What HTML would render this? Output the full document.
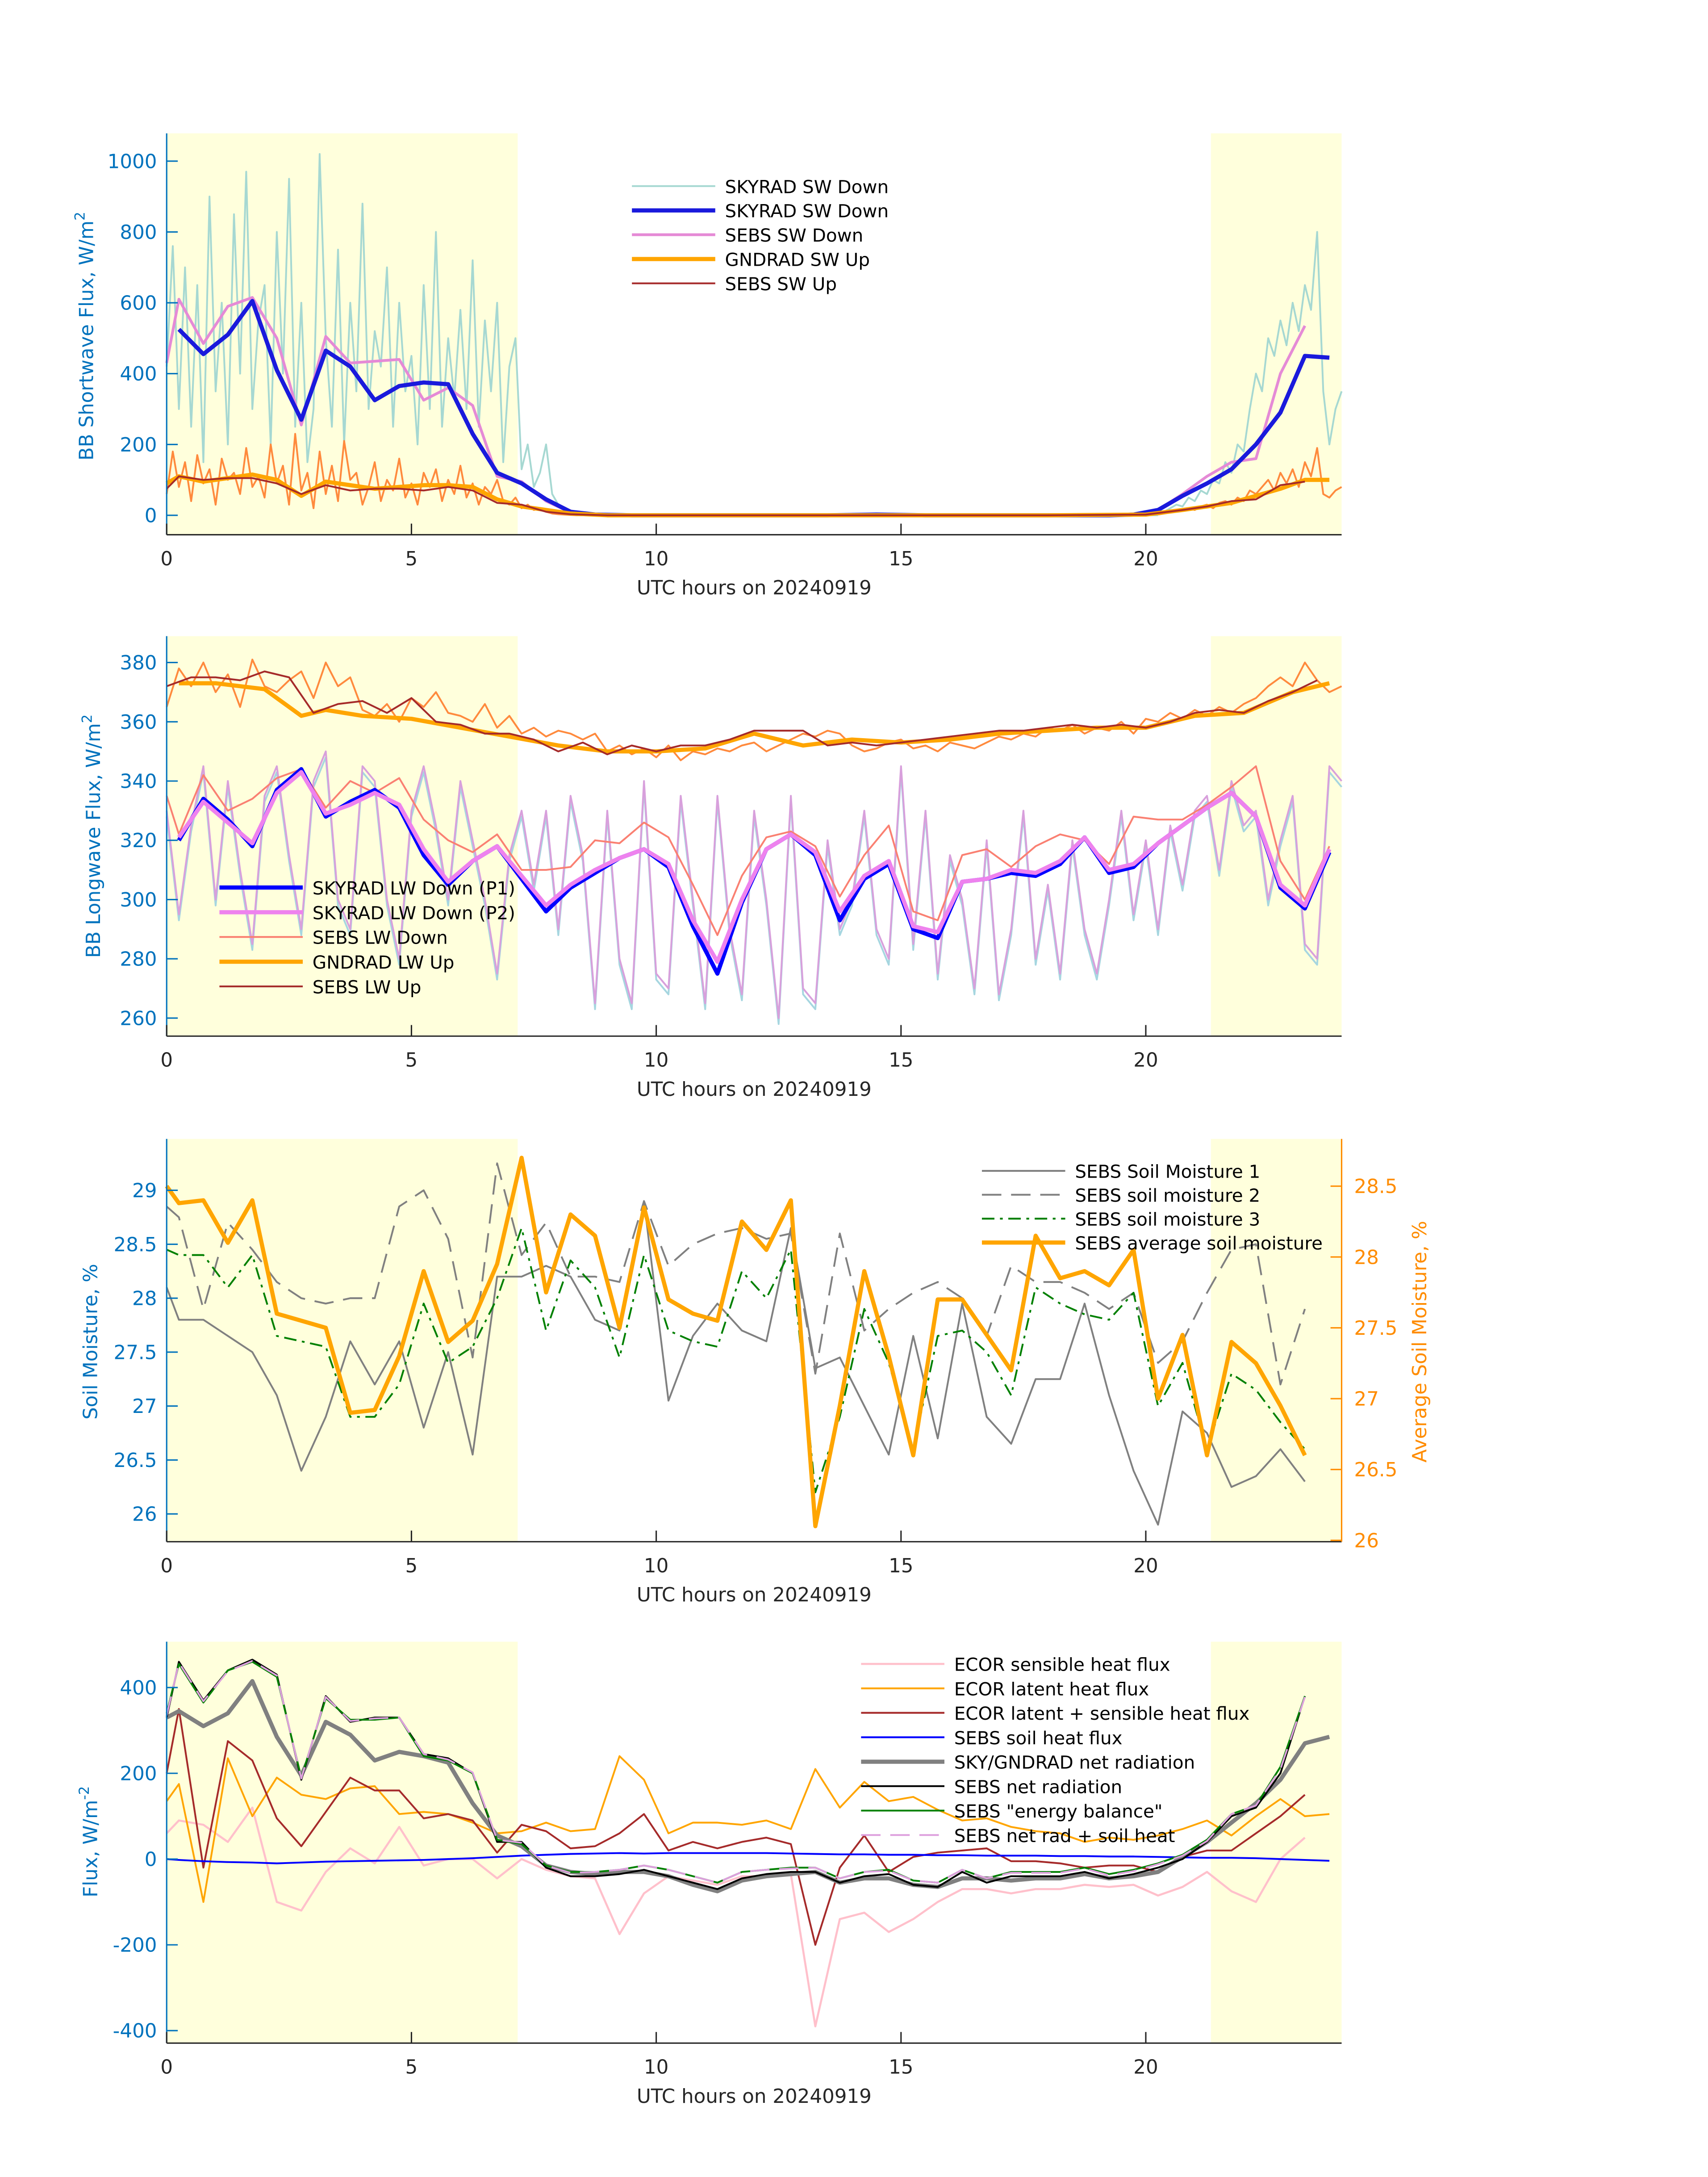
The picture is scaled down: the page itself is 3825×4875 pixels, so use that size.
<!DOCTYPE html>
<html><head><meta charset="utf-8"><style>
html,body{margin:0;padding:0;background:#fff;}
svg{display:block;font-family:"DejaVu Sans","Liberation Sans",sans-serif;}
</style></head><body>
<svg id="fig" width="3825" height="4875" viewBox="0 0 1229.8 1567.4" xmlns="http://www.w3.org/2000/svg"></svg>
<script>
// ---------- DATA ----------
// Panel 1 (shortwave)
const p1SkyT=[0.25,0.75,1.25,1.75,2.25,2.75,3.25,3.75,4.25,4.75,5.25,5.75,6.25,6.75,7.25,7.75,8.25,8.75,9.5,10.5,11.5,12.5,13.5,14.5,15.5,16.5,17.5,18.5,19.25,19.75,20.25,20.75,21.25,21.75,22.25,22.75,23.25,23.75];
const p1SkyV=[525,455,510,605,410,270,465,420,325,365,375,370,230,120,90,45,10,2,0,0,0,0,0,2,0,0,0,0,0,2,15,55,90,130,200,290,450,445];
const p1SebsT=[0,0.25,0.75,1.25,1.75,2.25,2.75,3.25,3.75,4.75,5.25,5.75,6.25,6.75,7.25,7.75,8.25,8.75,9.5,12,15,18,19.75,20.25,20.75,21.25,21.75,22.25,22.75,23.25];
const p1SebsV=[430,610,485,590,615,500,255,505,430,440,325,360,310,110,95,40,8,2,0,0,0,0,2,15,60,110,150,160,400,535];
const p1GndT=[0,0.25,0.75,1.25,1.75,2.25,2.75,3.25,3.75,4.25,4.75,5.25,5.75,6.25,6.75,7.25,7.75,8.25,9,12,15,18,20,20.75,21.25,21.75,22.25,22.75,23.25,23.75];
const p1GndV=[90,110,95,105,115,100,55,95,85,75,80,85,85,80,45,25,15,5,0,0,0,0,2,15,25,35,55,75,100,100];
const p1SebsUpT=[0,0.25,0.75,1.25,1.75,2.25,2.75,3.25,3.75,4.25,4.75,5.25,5.75,6.25,6.75,7.25,7.75,8.25,9,12,15,18,20,20.75,21.25,21.75,22.25,22.75,23.25];
const p1SebsUpV=[75,110,100,105,105,90,60,85,70,75,75,70,80,70,35,30,10,3,0,0,0,0,2,15,25,40,45,85,95];
const p1RawAm=[420,760,300,700,250,650,150,900,350,600,200,850,400,970,300,550,650,200,800,400,950,250,600,150,300,1020,500,250,750,200,600,350,880,300,520,420,700,250,600,350,450,200,650,300,800,250,500,330,580,300,720,250,550,350,600,150,420,500,130,200,80,120,200,60,30,15,5,2,0];
const p1RawPm=[5,10,20,30,25,50,40,70,60,100,90,150,120,200,180,300,400,350,500,450,550,480,600,520,650,580,800,350,200,300,350];
const p1UpAm=[60,180,80,150,40,170,90,130,30,160,100,120,60,190,80,110,50,200,90,140,30,230,70,120,20,180,60,140,40,210,100,120,30,80,150,40,100,70,160,50,90,30,120,80,130,40,100,60,140,50,90,30,80,60,100,40,30,50,20,30,15,20,10,5,3,2,1,0,0];
const p1UpPm=[2,5,8,10,12,20,15,25,30,20,35,40,30,50,40,70,60,80,100,70,120,90,130,80,150,110,190,60,50,70,80];
// Panel 2 (longwave)
const p2T=[0.25,0.75,1.25,1.75,2.25,2.75,3.25,3.75,4.25,4.75,5.25,5.75,6.25,6.75,7.25,7.75,8.25,8.75,9.25,9.75,10.25,10.75,11.25,11.75,12.25,12.75,13.25,13.75,14.25,14.75,15.25,15.75,16.25,16.75,17.25,17.75,18.25,18.75,19.25,19.75,20.25,20.75,21.25,21.75,22.25,22.75,23.25,23.75];
const p2P1=[320,334,327,318,337,344,328,333,337,331,315,305,313,318,307,296,304,309,314,317,311,291,275,299,317,322,315,293,307,312,290,287,306,307,309,308,312,321,309,311,319,325,331,336,328,304,297,316];
const p2P2=[321,333,326,319,336,343,329,332,336,332,317,306,313,318,308,298,305,310,314,317,312,293,279,300,317,322,316,296,308,313,291,289,306,307,310,309,313,321,310,312,319,325,331,336,328,305,298,317];
const p2SebsT=[0,0.25,0.75,1.25,1.75,2.25,2.75,3.25,3.75,4.25,4.75,5.25,5.75,6.25,6.75,7.25,7.75,8.25,8.75,9.25,9.75,10.25,10.75,11.25,11.75,12.25,12.75,13.25,13.75,14.25,14.75,15.25,15.75,16.25,16.75,17.25,17.75,18.25,18.75,19.25,19.75,20.25,20.75,21.25,21.75,22.25,22.75,23.25,23.75];
const p2SebsDn=[335,322,342,330,334,341,344,331,340,336,341,327,320,316,322,310,310,311,320,319,326,321,305,288,308,321,323,318,301,315,325,296,293,315,317,311,318,322,320,312,328,327,327,332,338,345,313,300,318];
const p2GndT=[0.25,1,2,2.75,3.25,4,5,6,7,8,9,10,11,12,13,14,15,16,17,18,19,20,21,22,23,23.75];
const p2GndUp=[373,373,371,362,364,362,361,358,355,352,350,350,351,356,352,354,353,354,356,357,358,358,362,363,370,373];
const p2UpT=[0,0.5,1,1.5,2,2.5,3,3.5,4,4.5,5,5.5,6,6.5,7,7.5,8,8.5,9,9.5,10,10.5,11,11.5,12,12.5,13,13.5,14,14.5,15,15.5,16,16.5,17,17.5,18,18.5,19,19.5,20,20.5,21,21.5,22,22.5,23,23.5];
const p2SebsUp=[372,375,375,374,377,375,363,366,367,363,368,360,359,356,356,354,350,353,349,352,350,352,352,354,357,357,357,352,353,352,353,354,355,356,357,357,358,359,358,359,358,360,363,364,363,367,370,374];
const p2RawDn=[330,295,325,345,300,340,310,285,335,345,315,290,340,350,300,290,345,340,300,280,330,345,325,300,340,320,300,275,315,330,305,330,290,335,315,265,330,280,265,340,275,270,335,300,265,335,290,268,330,300,260,335,270,265,320,290,300,330,290,280,345,285,330,275,315,300,270,320,268,290,330,280,305,275,320,290,275,300,330,295,320,290,325,305,330,335,310,340,325,330,300,320,335,285,280,345,340];
const p2RawUp=[365,378,372,380,370,376,365,381,372,370,374,377,368,380,372,375,364,362,366,360,368,365,370,363,362,360,366,358,362,356,358,355,357,356,354,356,350,352,349,351,348,352,347,350,349,351,350,352,353,350,352,354,356,355,357,356,352,350,351,353,354,351,352,350,353,352,351,353,355,354,356,355,358,357,359,356,358,357,360,356,361,360,363,361,364,362,365,363,366,368,372,375,372,380,374,370,372];
// Panel 3 (soil moisture)
const p3T=[0,0.25,0.75,1.25,1.75,2.25,2.75,3.25,3.75,4.25,4.75,5.25,5.75,6.25,6.75,7.25,7.75,8.25,8.75,9.25,9.75,10.25,10.75,11.25,11.75,12.25,12.75,13.25,13.75,14.25,14.75,15.25,15.75,16.25,16.75,17.25,17.75,18.25,18.75,19.25,19.75,20.25,20.75,21.25,21.75,22.25,22.75,23.25];
const p3Avg=[28.5,28.38,28.4,28.1,28.4,27.6,27.55,27.5,26.9,26.92,27.3,27.9,27.4,27.55,27.95,28.7,27.75,28.3,28.15,27.5,28.35,27.7,27.6,27.55,28.25,28.05,28.4,26.1,26.95,27.9,27.3,26.6,27.7,27.7,27.45,27.2,28.15,27.85,27.9,27.8,28.05,27.0,27.45,26.6,27.4,27.25,26.95,26.6];
const p3SM3=[28.45,28.4,28.4,28.1,28.4,27.65,27.6,27.55,26.9,26.9,27.2,27.95,27.4,27.55,28.0,28.65,27.7,28.35,28.1,27.45,28.4,27.7,27.6,27.55,28.25,28.0,28.45,26.2,26.9,27.9,27.4,26.6,27.65,27.7,27.5,27.1,28.1,27.95,27.85,27.8,28.05,27.0,27.4,26.6,27.3,27.15,26.85,26.6];
const p3SM1=[28.1,27.8,27.8,27.65,27.5,27.1,26.4,26.9,27.6,27.2,27.6,26.8,27.5,26.55,28.2,28.2,28.3,28.2,27.8,27.7,28.9,27.05,27.65,27.95,27.7,27.6,28.65,27.35,27.45,27.0,26.55,27.65,26.7,27.95,26.9,26.65,27.25,27.25,27.95,27.1,26.4,25.9,26.95,26.75,26.25,26.35,26.6,26.3];
const p3SM2=[28.85,28.75,27.9,28.7,28.45,28.15,28.0,27.95,28.0,28.0,28.85,29.0,28.55,27.45,29.25,28.4,28.7,28.2,28.2,28.15,28.9,28.3,28.5,28.6,28.65,28.55,28.6,27.3,28.6,27.7,27.9,28.05,28.15,28.0,27.65,28.3,28.15,28.15,28.05,27.9,28.05,27.4,27.6,28.05,28.45,28.5,27.2,27.9];
// Panel 4 (fluxes)
const p4T=[0,0.25,0.75,1.25,1.75,2.25,2.75,3.25,3.75,4.25,4.75,5.25,5.75,6.25,6.75,7.25,7.75,8.25,8.75,9.25,9.75,10.25,10.75,11.25,11.75,12.25,12.75,13.25,13.75,14.25,14.75,15.25,15.75,16.25,16.75,17.25,17.75,18.25,18.75,19.25,19.75,20.25,20.75,21.25,21.75,22.25,22.75,23.25,23.75];
const p4Sens=[60,90,80,40,120,-100,-120,-30,25,-10,75,-15,0,0,-45,0,-25,-40,-45,-175,-80,-40,-50,-60,-40,-40,-35,-390,-140,-125,-170,-140,-100,-70,-70,-80,-70,-70,-60,-65,-60,-85,-65,-30,-75,-100,0,50];
const p4Lat=[135,175,-100,235,100,190,150,140,165,170,105,110,105,85,60,65,85,65,70,240,185,60,85,85,80,90,70,210,120,180,135,145,115,90,95,75,65,60,40,50,45,55,70,90,55,100,140,100,105];
const p4LatSens=[200,350,-20,275,230,95,30,110,190,160,160,95,105,90,15,80,65,25,30,60,105,20,40,25,40,50,35,-200,-20,55,-30,5,15,20,25,-5,-5,-10,-20,-15,-15,-30,5,20,20,60,100,150];
const p4Soil=[0,-2,-5,-7,-8,-10,-8,-6,-5,-4,-3,-2,0,2,5,8,10,12,13,14,13,14,14,14,14,14,13,12,11,11,10,10,9,9,8,8,8,7,7,6,6,5,4,3,3,2,0,-2,-4];
const p4SkyNet=[330,345,310,340,415,285,195,320,290,230,250,240,225,130,55,30,-15,-30,-35,-30,-30,-40,-60,-75,-50,-40,-35,-30,-55,-45,-45,-60,-65,-45,-45,-50,-45,-45,-35,-45,-40,-30,5,40,85,130,185,270,285];
const p4Net=[330,460,370,440,465,430,185,380,320,330,330,245,235,200,40,40,-20,-40,-40,-35,-25,-40,-55,-70,-45,-35,-30,-30,-55,-40,-35,-60,-65,-30,-55,-40,-40,-40,-30,-45,-35,-20,0,40,100,120,200,380];
const p4Bal=[340,455,365,440,460,425,190,375,325,325,330,240,230,200,45,35,-15,-30,-30,-25,-15,-25,-40,-55,-30,-25,-20,-20,-45,-30,-25,-50,-55,-25,-45,-30,-30,-30,-20,-35,-25,-10,10,45,105,125,215,380];
const p4NetSoil=[335,458,368,438,462,428,188,378,322,328,330,245,232,202,45,38,-15,-32,-30,-25,-15,-25,-40,-55,-30,-25,-22,-20,-45,-30,-27,-50,-55,-25,-45,-32,-32,-32,-22,-38,-28,-12,8,42,105,125,210,378];
const xTicks=[0,5,10,15,20];
const p1YTicks=[0,200,400,600,800,1000];
const p2YTicks=[260,280,300,320,340,360,380];
const p3YTicks=[26,26.5,27,27.5,28,28.5,29];
const p3RTicks=[26,26.5,27,27.5,28,28.5];
const p4YTicks=[-400,-200,0,200,400];

// ---------- DRAW ----------
const NS="http://www.w3.org/2000/svg";
const svg=document.getElementById('fig');
const X0=120,X1=966;
function sx(h){return X0+(h/24)*(X1-X0);}
function mk(tag,attrs,parent){const e=document.createElementNS(NS,tag);for(const k in attrs)e.setAttribute(k,attrs[k]);(parent||svg).appendChild(e);return e;}
function lin(d0,d1,p0,p1){return v=>p0+(v-d0)/(d1-d0)*(p1-p0);}
function series(ts,vs,sy,color,w,name,extra){
  const pts=ts.map((t,i)=>sx(t).toFixed(2)+','+sy(vs[i]).toFixed(2)).join(' ');
  const e=mk('polyline',Object.assign({points:pts,fill:'none',stroke:color,'stroke-width':w,'stroke-linejoin':'round'},extra||{}));
  
  
  return e;
}
function stepT(t0,dt,n){const a=[];for(let i=0;i<n;i++)a.push(t0+i*dt);return a;}
function txt(x,y,s,opt){const e=mk('text',Object.assign({x:x,y:y,'font-size':14,fill:'#000'},opt||{}));e.textContent=s;return e;}
function frame(top,bot){
  const r=mk('rect',{x:X0,y:top,width:X1-X0,height:bot-top,fill:'#fff'});
  
  const s1=mk('rect',{x:X0,y:top,width:sx(7.17)-X0,height:bot-top,fill:'#ffffdc'});
  
  const s2=mk('rect',{x:sx(21.33),y:top,width:X1-sx(21.33),height:bot-top,fill:'#ffffdc'});
  
}
function axes(top,bot,yTicks,sy,yfmt,name,ycol){
  const ax=mk('line',{x1:X0,y1:top,x2:X0,y2:bot,stroke:'#0072bd','stroke-width':1});
  
  const bx=mk('line',{x1:X0,y1:bot,x2:X1,y2:bot,stroke:'#262626','stroke-width':1});
  
  xTicks.forEach(t=>{mk('line',{x1:sx(t),y1:bot,x2:sx(t),y2:bot-8,stroke:'#262626'});
    const l=txt(sx(t),bot+22,String(t),{'text-anchor':'middle',fill:'#262626'});
    });
  yTicks.forEach(v=>{mk('line',{x1:X0,y1:sy(v),x2:X0+8,y2:sy(v),stroke:'#0072bd'});
    const l=txt(X0-7,sy(v)+5,yfmt(v),{'text-anchor':'end',fill:ycol||'#0072bd'});
    });
  const xl=txt((X0+X1)/2,bot+43,'UTC hours on 20240919',{'text-anchor':'middle',fill:'#262626'});
  
}
function ylab(x,cy,parts,name,col){
  const e=mk('text',{x:0,y:0,'font-size':14,fill:col||'#0072bd','text-anchor':'middle',transform:`translate(${x},${cy}) rotate(-90)`});
  e.innerHTML=parts;
  
}
function legend(x,y0,dy,items,name){
  items.forEach((it,i)=>{const y=y0+i*dy;
    const l=mk('line',Object.assign({x1:x,y1:y,x2:x+60,y2:y,stroke:it[1],'stroke-width':it[2]},it[3]||{}));
    
    const t=txt(x+67,y+5,it[0],{'font-size':13});
    });
}

// Panel 1
{const top=96,bot=385,sy=lin(0,1000,371,116);
frame(top,bot);
series(stepT(0,0.125,p1RawAm.length),p1RawAm,sy,'#a6d8d2',1.3,'skyrad-sw-down-raw-am');
series(stepT(20.25,0.125,p1RawPm.length),p1RawPm,sy,'#a6d8d2',1.3,'skyrad-sw-down-raw-pm');
series([8.5,20.25],[0,0],sy,'#a6d8d2',1.3,'skyrad-sw-down-raw-night');
series(stepT(0,0.125,p1UpAm.length),p1UpAm,sy,'#ff8a3d',1.3,'gndrad-sw-up-raw-am');
series(stepT(20.25,0.125,p1UpPm.length),p1UpPm,sy,'#ff8a3d',1.3,'gndrad-sw-up-raw-pm');
series(p1SebsT,p1SebsV,sy,'#e58ad6',2,'sebs-sw-down');
series(p1SkyT,p1SkyV,sy,'#1a1adc',3,'skyrad-sw-down');
series(p1GndT,p1GndV,sy,'#ffa500',3,'gndrad-sw-up');
series(p1SebsUpT,p1SebsUpV,sy,'#a52a2a',1.3,'sebs-sw-up');
axes(top,bot,p1YTicks,sy,v=>String(v),'panel1');
ylab(67,242,'BB Shortwave Flux, W/m<tspan dy="-6" font-size="10">2</tspan>','panel1-y-axis-title');
legend(455,134,17.5,[['SKYRAD SW Down','#a6d8d2',1.3],['SKYRAD SW Down','#1a1adc',3],['SEBS SW Down','#e58ad6',2],['GNDRAD SW Up','#ffa500',3],['SEBS SW Up','#a52a2a',1.3]],'panel1-legend');}

// Panel 2
{const top=458,bot=746,sy=lin(260,380,733,477);
frame(top,bot);
series(stepT(0,0.25,p2RawDn.length),p2RawDn.map(v=>v-2),sy,'#a6d6e0',1.3,'skyrad-lw-down-raw-p1');
series(stepT(0,0.25,p2RawDn.length),p2RawDn,sy,'#d8a0dc',1.3,'skyrad-lw-down-raw-p2');
series(stepT(0,0.25,p2RawUp.length),p2RawUp,sy,'#ff8a3d',1.3,'gndrad-lw-up-raw');
series(p2SebsT,p2SebsDn,sy,'#fa8072',1.3,'sebs-lw-down');
series(p2T,p2P1,sy,'#0000ff',3,'skyrad-lw-down-p1');
series(p2T,p2P2,sy,'#ee82ee',3,'skyrad-lw-down-p2');
series(p2GndT,p2GndUp,sy,'#ffa500',3,'gndrad-lw-up');
series(p2UpT,p2SebsUp,sy,'#a52a2a',1.3,'sebs-lw-up');
axes(top,bot,p2YTicks,sy,v=>String(v),'panel2');
ylab(72,602,'BB Longwave Flux, W/m<tspan dy="-6" font-size="10">2</tspan>','panel2-y-axis-title');
legend(158,639,17.8,[['SKYRAD LW Down (P1)','#0000ff',3],['SKYRAD LW Down (P2)','#ee82ee',3],['SEBS LW Down','#fa8072',1.3],['GNDRAD LW Up','#ffa500',3],['SEBS LW Up','#a52a2a',1.3]],'panel2-legend');}

// Panel 3
{const top=820,bot=1110,sy=lin(26,29,1090,857),sr=lin(26,28.5,1109,854);
frame(top,bot);
series(p3T,p3SM1,sy,'#808080',1.3,'sebs-soil-moisture-1');
series(p3T,p3SM2,sy,'#808080',1.3,'sebs-soil-moisture-2',{'stroke-dasharray':'14,7'});
series(p3T,p3SM3,sy,'#008000',1.3,'sebs-soil-moisture-3',{'stroke-dasharray':'9,4,2,4'});
series(p3T,p3Avg,sr,'#ffa500',3,'sebs-average-soil-moisture');
axes(top,bot,p3YTicks,sy,v=>String(v),'panel3');
const ra=mk('line',{x1:X1,y1:top,x2:X1,y2:bot,stroke:'#ff8c00'});

p3RTicks.forEach(v=>{mk('line',{x1:X1-8,y1:sr(v),x2:X1,y2:sr(v),stroke:'#ff8c00'});
  const l=txt(X1+9,sr(v)+5,String(v),{fill:'#ff8c00'});
  });
ylab(70,966,'Soil Moisture, %','panel3-y-axis-title');
ylab(1027,966,'Average Soil Moisture, %','panel3-right-y-axis-title','#ff8c00');
legend(707,843,17.2,[['SEBS Soil Moisture 1','#808080',1.3],['SEBS soil moisture 2','#808080',1.3,{'stroke-dasharray':'14,7'}],['SEBS soil moisture 3','#008000',1.3,{'stroke-dasharray':'9,4,2,4'}],['SEBS average soil moisture','#ffa500',3]],'panel3-legend');}

// Panel 4
{const top=1182,bot=1471,sy=lin(-400,400,1462,1215);
frame(top,bot);
series(p4T.slice(0,p4Sens.length),p4Sens,sy,'#ffc0cb',1.5,'ecor-sensible-heat-flux');
series(p4T,p4Lat,sy,'#ffa500',1.3,'ecor-latent-heat-flux');
series(p4T.slice(0,p4LatSens.length),p4LatSens,sy,'#a52a2a',1.3,'ecor-latent-plus-sensible');
series(p4T,p4Soil,sy,'#0000ff',1.3,'sebs-soil-heat-flux');
series(p4T,p4SkyNet,sy,'#808080',3,'sky-gndrad-net-radiation');
series(p4T.slice(0,p4Net.length),p4Net,sy,'#000000',1.3,'sebs-net-radiation');
series(p4T.slice(0,p4Bal.length),p4Bal,sy,'#008000',1.3,'sebs-energy-balance');
series(p4T.slice(0,p4NetSoil.length),p4NetSoil,sy,'#dda0dd',1.3,'sebs-net-rad-plus-soil-heat',{'stroke-dasharray':'14,7'});
axes(top,bot,p4YTicks,sy,v=>String(v),'panel4');
ylab(70,1326,'Flux, W/m<tspan dy="-6" font-size="10">-2</tspan>','panel4-y-axis-title');
legend(620,1198,17.6,[['ECOR sensible heat flux','#ffc0cb',1.5],['ECOR latent heat flux','#ffa500',1.3],['ECOR latent + sensible heat flux','#a52a2a',1.3],['SEBS soil heat flux','#0000ff',1.3],['SKY/GNDRAD net radiation','#808080',3],['SEBS net radiation','#000000',1.3],['SEBS "energy balance"','#008000',1.3],['SEBS net rad + soil heat','#dda0dd',1.3,{'stroke-dasharray':'14,7'}]],'panel4-legend');}
</script>
</body></html>
